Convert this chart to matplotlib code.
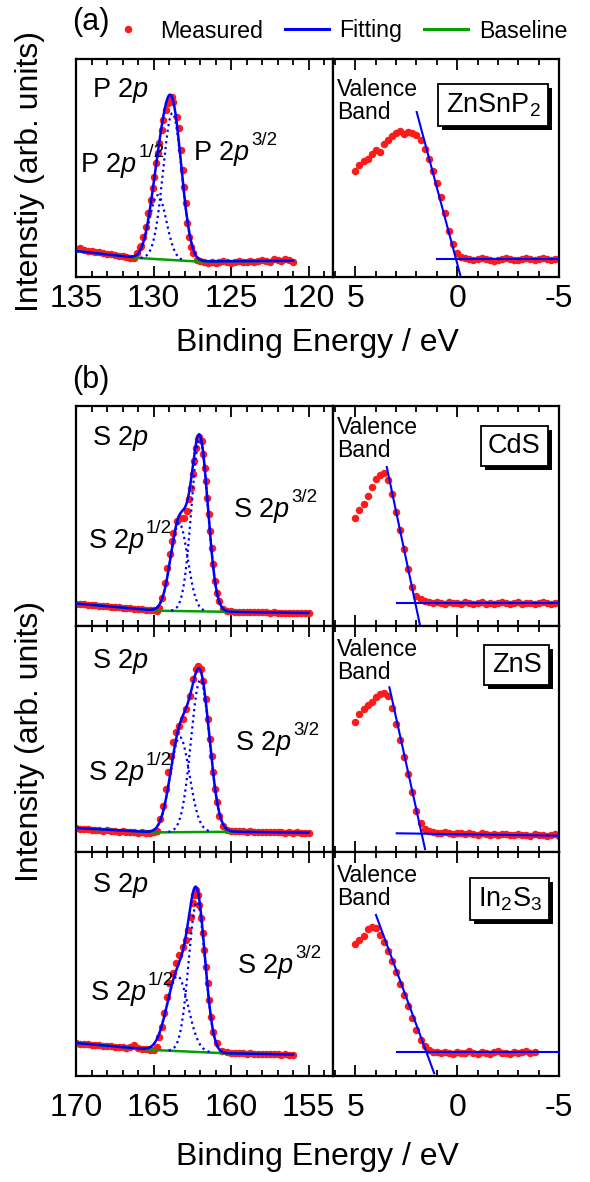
import numpy as np
import matplotlib
matplotlib.use("Agg")
import matplotlib.pyplot as plt
from matplotlib.lines import Line2D
from matplotlib.ticker import MultipleLocator
import matplotlib.patheffects as pe

plt.rcParams['font.family'] = ['Liberation Sans', 'DejaVu Sans']
plt.rcParams['mathtext.fontset'] = 'custom'
plt.rcParams['mathtext.rm'] = 'Liberation Sans'
plt.rcParams['mathtext.it'] = 'Liberation Sans:italic'
plt.rcParams['mathtext.bf'] = 'Liberation Sans:bold'
plt.rcParams['axes.unicode_minus'] = False

# ======================= DATA =======================
# ---- (a) ZnSnP2 : P 2p core level (intensity in arb. units) ----
P2p_left_E = np.arange(135.0, 131.2, -0.25)
P2p_left_I = [28, 29.5, 27, 26, 26.5, 25, 25.5, 24, 23, 23.5, 22, 21, 21.5, 20, 19.5, 19]
P2p_peak_E = [131.05, 130.9, 130.78, 130.66, 130.48, 130.33, 130.18, 130.05, 129.95, 129.84,
              129.73, 129.62, 129.47, 129.37, 129.19, 129.04, 128.94, 128.83, 128.72, 128.51,
              128.35, 128.25, 128.12, 128.01, 127.92, 127.82, 127.69, 127.58, 127.43, 127.22]
P2p_peak_I = [24, 30, 31, 40.3, 50.3, 63.7, 77, 88.7, 100.3, 113.7,
              123.7, 133.7, 147, 157, 167, 173.7, 178.7, 180.3, 175.3, 160.3,
              148.7, 127, 107, 90.3, 73.7, 53.7, 40.3, 30.3, 23.7, 17]
P2p_right_E = np.arange(127.0, 120.9, -0.25)
P2p_right_I = [16, 15, 14.5, 15.5, 14, 15, 16, 15, 14.5, 15.5, 16, 15, 15.5, 16.5, 15,
               16, 17, 16, 15.5, 18.5, 17, 16, 18, 17, 15.5]
P2p_base_E = [135.0, 131.0, 127.3, 121.0]
P2p_base_I = [26, 19, 15.5, 16.2]
P2p_centers = [129.72, 128.78]
P2p_heights = [64, 147]
P2p_sigmas = [0.55, 0.60]

# ---- (a) ZnSnP2 : valence band ----
VB_ZnSnP2_E = np.arange(5.0, -5.05, -0.2)
VB_ZnSnP2_I = [106, 112, 116, 118, 123, 127, 125, 133, 137, 141, 144, 146, 143, 145, 144,
               142, 137, 128, 118, 106, 94, 80, 64, 46, 33, 24,
               20, 19, 18, 17, 18.5, 19.5, 18, 17, 16.5, 17.5, 18, 19, 18, 17, 17.5,
               18, 19.5, 18.5, 17, 18, 19, 18.5, 17.5, 18, 18.5]
VB_ZnSnP2_edge_E = [1.99, -0.15]
VB_ZnSnP2_edge_I = [165, 2]
VB_ZnSnP2_flat_E = [1.0, -5.0]
VB_ZnSnP2_flat_I = [17.7, 17.7]

# ---- (b) CdS : S 2p ----
CdS_left_E = np.arange(170.0, 164.9, -0.25)
CdS_left_I = [22.5, 22, 21.8, 21.5, 21, 20.8, 20.5, 20, 19.8, 19.5, 19, 18.7, 18.4, 18,
              17.6, 17.3, 17, 16.6, 16.3, 16, 15.6]
CdS_peak_E = [164.8, 164.65, 164.47, 164.26, 164.11, 163.94, 163.83, 163.72, 163.51, 163.29,
              163.03, 162.86, 162.69, 162.58, 162.47, 162.37, 162.26, 162.15, 162.04, 161.89,
              161.78, 161.70, 161.61, 161.53, 161.44, 161.35, 161.25, 161.14, 161.03, 160.92,
              160.75, 160.54]
CdS_peak_I = [15.5, 18, 28.3, 43.3, 58.3, 71.7, 85, 93.3, 105, 107.7,
              108.3, 115, 126.7, 138.3, 151.7, 165, 178.3, 186.7, 189, 185,
              171.7, 158.3, 145, 128.3, 111.7, 95, 78.3, 61.7, 45, 33.3,
              25, 16.7]
CdS_right_E = np.arange(160.25, 154.9, -0.25)
CdS_right_I = [15.5, 15, 14.5, 14.5, 14, 14, 14.2, 13.8, 14, 13.6, 13.8, 13.5, 13.7, 13.4,
               13.5, 13.2, 13.4, 13.3, 13, 13.2, 13, 13.1]
CdS_base_E = [170.0, 164.8, 160.5, 155.0]
CdS_base_I = [22.5, 15.3, 14.2, 13.0]
CdS_centers = [163.35, 162.02]
CdS_heights = [88, 172]
CdS_sigmas = [0.55, 0.53]

VB_CdS_E = np.arange(5.0, -5.05, -0.2)
VB_CdS_I = [108, 116, 122, 130, 139, 147, 151, 153, 146, 132, 114, 96, 77, 57, 39, 30, 27, 25,
            24, 23.5, 24.5, 23, 22.5, 24, 23, 23.5, 22, 24, 23, 22.5, 23.5, 24, 22.5, 23, 22,
            23.5, 24.5, 23, 22.5, 23, 24, 22.5, 23, 23.5, 22, 23, 24, 23, 22.5, 23.5, 23]
VB_CdS_edge_E = [3.46, 1.82]
VB_CdS_edge_I = [159, 0]
VB_CdS_flat_E = [2.97, -5.0]
VB_CdS_flat_I = [23.3, 23.3]

# ---- (b) ZnS : S 2p ----
ZnS_left_E = np.arange(170.0, 164.9, -0.25)
ZnS_left_I = [24, 23.5, 23, 23.3, 22.5, 22, 22.3, 21.5, 21.7, 21, 21.2, 20.5, 20.8, 20.3,
              19.8, 20, 19.5, 19.8, 19.3, 19.5, 20]
ZnS_peak_E = [164.8, 164.58, 164.37, 164.19, 164.04, 163.87, 163.72, 163.55, 163.33, 163.12,
              162.90, 162.65, 162.43, 162.26, 162.11, 161.96, 161.78, 161.63, 161.51, 161.35,
              161.25, 161.14, 161.03, 160.92, 160.75, 160.54]
ZnS_peak_I = [21, 33, 46.3, 63, 79.7, 96.3, 109.7, 119.7, 126.3, 133,
              143, 156.3, 173, 183, 186.3, 183, 171.3, 153, 133, 113,
              96.3, 79.7, 63, 49.7, 36.3, 26.3]
ZnS_right_E = np.arange(160.25, 154.9, -0.25)
ZnS_right_I = [22.3, 21.5, 21, 20.8, 21.2, 20.5, 20.7, 20.2, 20.5, 20, 20.3, 19.8, 20, 19.6,
               19.9, 19.5, 19.7, 19.3, 19.6, 19.2, 19.5, 19.3]
ZnS_base_E = [170.0, 164.9, 160.3, 155.0]
ZnS_base_I = [24, 19.6, 20.3, 19.3]
ZnS_centers = [163.3, 161.98]
ZnS_heights = [95, 152]
ZnS_sigmas = [0.62, 0.60]

VB_ZnS_E = np.arange(5.0, -5.05, -0.2)
VB_ZnS_I = [130, 138, 143, 147, 150, 155, 158, 159, 156, 144, 128, 112, 95, 78, 60, 41, 29, 23,
            21, 20, 19.5, 19, 20, 19, 18.5, 19.5, 19, 18, 19, 18.5, 17.5, 19, 18, 17.5, 18.5,
            17, 18, 18.5, 17, 17.5, 18.5, 17, 17.5, 16.5, 18, 17, 17.5, 16.5, 17, 18, 16.5]
VB_ZnS_edge_E = [3.33, 1.58]
VB_ZnS_edge_I = [164.7, 3]
VB_ZnS_flat_E = [2.97, -5.0]
VB_ZnS_flat_I = [18.7, 16.3]

# ---- (b) In2S3 : S 2p ----
In2S3_left_E = np.arange(170.0, 164.9, -0.25)
In2S3_left_I = [33, 32.5, 32, 32.3, 31.5, 31, 31.3, 30.5, 30, 30.3, 29.5, 29, 29.3, 28.5,
                29.5, 31, 28, 27.5, 27, 26.5, 26]
In2S3_peak_E = [164.8, 164.62, 164.47, 164.32, 164.15, 163.98, 163.76, 163.55, 163.33, 163.12,
                162.90, 162.75, 162.60, 162.47, 162.37, 162.26, 162.15, 162.04, 161.94, 161.83,
                161.72, 161.61, 161.51, 161.40, 161.29, 161.14, 160.92, 160.60]
In2S3_peak_I = [29.3, 39.3, 49.3, 62.7, 79.3, 92.7, 102.7, 112.7, 121, 129.3,
                136, 146, 159.3, 172.7, 181, 186, 181, 171, 157.7, 142.7,
                126, 109.3, 92.7, 76, 59.3, 44.3, 32.7, 25.3]
In2S3_right_E = np.arange(160.25, 155.95, -0.25)
In2S3_right_I = [24, 23.5, 23, 23.2, 22.8, 22.5, 22.7, 22.3, 22, 22.4, 21.8, 22, 21.6, 21.9,
                 21.5, 21.7, 21.3, 21.5]
In2S3_base_E = [170.0, 165.0, 160.6, 156.0]
In2S3_base_I = [33, 26, 22.8, 21.5]
In2S3_centers = [163.45, 162.2]
In2S3_heights = [75, 150]
In2S3_sigmas = [0.68, 0.53]

VB_In2S3_E = np.arange(5.0, -3.85, -0.2)
VB_In2S3_I = [132, 136, 140, 147, 149, 148, 141, 134, 125, 115, 104, 92, 81, 70, 58, 46, 36,
              30, 26, 24.5,
              24, 23, 24.5, 23.5, 22.5, 24, 23, 23.5, 25, 23, 22.5, 24, 23.5, 22.5, 24, 25, 23,
              23.5, 22.5, 24, 23, 24.5, 25, 23.5, 24]
VB_In2S3_edge_E = [3.99, 1.13]
VB_In2S3_edge_I = [161, 2.7]
VB_In2S3_flat_E = [2.97, -5.0]
VB_In2S3_flat_I = [23.7, 23.7]

sample_names = ['ZnSnP$_2$', 'CdS', 'ZnS', 'In$_2$S$_3$']

# ======================= LAYOUT =======================
W, H = 590, 1182
fig = plt.figure(figsize=(W / 100, H / 100), dpi=100)

XL0, XM, XR1 = 76, 333, 559
rows = [(59, 277), (406, 626), (626, 852), (852, 1076)]


def rect(x0, x1, y0, y1):
    return [x0 / W, 1 - y1 / H, (x1 - x0) / W, (y1 - y0) / H]


RED = '#ff1a1a'
BLUE = '#0000ff'
GREEN = '#00a000'
FS_TICK = 23
FS_ANN = 19.5
FS_SUP = 13.5


def style(ax, major, minor, labels, pad):
    ax.xaxis.set_major_locator(MultipleLocator(major))
    ax.xaxis.set_minor_locator(MultipleLocator(minor))
    ax.tick_params(axis='x', which='both', direction='in', top=True, bottom=True,
                   labelbottom=labels, labelsize=FS_TICK, pad=pad, width=1.3)
    ax.tick_params(axis='x', which='major', length=8)
    ax.tick_params(axis='x', which='minor', length=4.5)
    ax.set_yticks([])
    for s in ax.spines.values():
        s.set_linewidth(1.6)


def plot_core(ax, Es, Is, base_E, base_I, centers, heights, sigmas):
    E = np.concatenate([np.asarray(e, float) for e in Es])
    I = np.concatenate([np.asarray(i, float) for i in Is])
    ax.plot(E, I, 'o', color=RED, ms=5.4, mew=0, zorder=2)
    Ef = np.linspace(E.max(), E.min(), 900)
    bl = np.interp(Ef, np.asarray(base_E)[::-1], np.asarray(base_I)[::-1])
    comps = [h * np.exp(-(Ef - c) ** 2 / (2 * s ** 2)) for c, h, s in zip(centers, heights, sigmas)]
    ax.plot(Ef, bl, color=GREEN, lw=1.8, zorder=3)
    for comp in comps:
        m = comp > 0.4
        ax.plot(Ef[m], bl[m] + comp[m], color=BLUE, lw=1.6, ls=(0, (1, 1.6)), zorder=3)
    ax.plot(Ef, bl + np.sum(comps, axis=0), color=BLUE, lw=1.8, zorder=4)


def plot_vb(ax, E, I, edge_E, edge_I, flat_E, flat_I):
    ax.plot(E, I, 'o', color=RED, ms=5.4, mew=0, zorder=2)
    ax.plot(edge_E, edge_I, color=BLUE, lw=1.5, zorder=4)
    ax.plot(flat_E, flat_I, color=BLUE, lw=1.5, zorder=4)


def add_box(ax, xc, yc, s):
    t = ax.text(xc, yc, s, transform=ax.transAxes, ha='center', va='center', fontsize=FS_ANN,
                zorder=6, bbox=dict(boxstyle='square,pad=0.27', fc='white', ec='black', lw=1.3))
    t.get_bbox_patch().set_path_effects([
        pe.SimplePatchShadow(offset=(2.8, -2.8), shadow_rgbFace='black', alpha=1.0),
        pe.Normal()])


def label_with_sup(ax, pos, base, sup):
    t = ax.text(*pos, base, transform=ax.transAxes, fontsize=FS_ANN, va='baseline')
    if sup:
        ax.annotate(sup, xy=(1, 0), xycoords=t, xytext=(0.8, 16.3),
                    textcoords='offset points', fontsize=FS_SUP, va='baseline', ha='left')


core_sets = [
    ([P2p_left_E, P2p_peak_E, P2p_right_E], [P2p_left_I, P2p_peak_I, P2p_right_I],
     P2p_base_E, P2p_base_I, P2p_centers, P2p_heights, P2p_sigmas),
    ([CdS_left_E, CdS_peak_E, CdS_right_E], [CdS_left_I, CdS_peak_I, CdS_right_I],
     CdS_base_E, CdS_base_I, CdS_centers, CdS_heights, CdS_sigmas),
    ([ZnS_left_E, ZnS_peak_E, ZnS_right_E], [ZnS_left_I, ZnS_peak_I, ZnS_right_I],
     ZnS_base_E, ZnS_base_I, ZnS_centers, ZnS_heights, ZnS_sigmas),
    ([In2S3_left_E, In2S3_peak_E, In2S3_right_E], [In2S3_left_I, In2S3_peak_I, In2S3_right_I],
     In2S3_base_E, In2S3_base_I, In2S3_centers, In2S3_heights, In2S3_sigmas),
]
vb_sets = [
    (VB_ZnSnP2_E, VB_ZnSnP2_I, VB_ZnSnP2_edge_E, VB_ZnSnP2_edge_I, VB_ZnSnP2_flat_E, VB_ZnSnP2_flat_I),
    (VB_CdS_E, VB_CdS_I, VB_CdS_edge_E, VB_CdS_edge_I, VB_CdS_flat_E, VB_CdS_flat_I),
    (VB_ZnS_E, VB_ZnS_I, VB_ZnS_edge_E, VB_ZnS_edge_I, VB_ZnS_flat_E, VB_ZnS_flat_I),
    (VB_In2S3_E, VB_In2S3_I, VB_In2S3_edge_E, VB_In2S3_edge_I, VB_In2S3_flat_E, VB_In2S3_flat_I),
]

core_label = ['P', 'S', 'S', 'S']
ann_pos = [
    dict(main=(0.062, 0.826), half=(0.016, 0.482), three=(0.455, 0.537), vb=(0.018, 0.913), box=(0.708, 0.789)),
    dict(main=(0.062, 0.823), half=(0.047, 0.355), three=(0.611, 0.495), vb=(0.018, 0.955), box=(0.803, 0.818)),
    dict(main=(0.062, 0.814), half=(0.047, 0.319), three=(0.619, 0.451), vb=(0.018, 0.947), box=(0.812, 0.827)),
    dict(main=(0.062, 0.821), half=(0.054, 0.339), three=(0.626, 0.460), vb=(0.018, 0.946), box=(0.783, 0.790)),
]

left_axes, right_axes = [], []
for k, (y0, y1) in enumerate(rows):
    axl = fig.add_axes(rect(XL0, XM, y0, y1))
    axr = fig.add_axes(rect(XM, XR1, y0, y1))
    left_axes.append(axl)
    right_axes.append(axr)
    hgt = y1 - y0
    show = k in (0, 3)
    pad = 5 if k == 0 else 12
    plot_core(axl, *core_sets[k])
    plot_vb(axr, *vb_sets[k])
    if k == 0:
        axl.set_xlim(135, 118.42)
    else:
        axl.set_xlim(170, 153.42)
    axr.set_xlim(6.1, -5.0)
    axl.set_ylim(0, hgt)
    axr.set_ylim(0, hgt)
    style(axl, 5, 1, show, pad)
    style(axr, 5, 1, show, pad)

    p = ann_pos[k]
    L = core_label[k]
    label_with_sup(axl, p['main'], L + ' 2$p$', None)
    label_with_sup(axl, p['half'], L + ' 2$p$', '1/2')
    label_with_sup(axl, p['three'], L + ' 2$p$', '3/2')
    axr.text(*p['vb'], 'Valence\nBand', transform=axr.transAxes, fontsize=16.5, va='top',
             ha='left', linespacing=1.0)
    add_box(axr, *p['box'], sample_names[k])

# axis labels
left_axes[0].set_ylabel('Intenstiy (arb. units)', fontsize=23)
left_axes[0].yaxis.label.set_va('center')
left_axes[0].yaxis.set_label_coords((30 - XL0) / (XM - XL0), (277 - 172) / 218)
left_axes[2].set_ylabel('Intensity (arb. units)', fontsize=23)
left_axes[2].yaxis.label.set_va('center')
left_axes[2].yaxis.set_label_coords((30 - XL0) / (XM - XL0), (852 - 741) / 226)

xc = ((XL0 + XR1) / 2 - XL0) / (XM - XL0)
left_axes[0].set_xlabel('Binding Energy / eV', fontsize=23)
left_axes[0].xaxis.set_label_coords(xc, -51 / 218)
left_axes[3].set_xlabel('Binding Energy / eV', fontsize=23)
left_axes[3].xaxis.set_label_coords(xc, -66 / 224)

fig.text(91 / W, 1 - 22 / H, '(a)', fontsize=22, ha='center', va='center')
fig.text(91 / W, 1 - 380 / H, '(b)', fontsize=22, ha='center', va='center')

handles = [Line2D([], [], ls='none', marker='o', color=RED, ms=5.4, mew=0),
           Line2D([], [], color=BLUE, lw=2.2),
           Line2D([], [], color=GREEN, lw=2.2)]
fig.legend(handles, ['Measured', 'Fitting', 'Baseline'], loc='center left',
           bbox_to_anchor=(105.5 / W, 1 - 31 / H), ncol=3, frameon=False, fontsize=16.7,
           handlelength=1.9, handletextpad=0.45, columnspacing=0.95, borderpad=0,
           borderaxespad=0, numpoints=1)

fig.savefig('out.png', dpi=100)
